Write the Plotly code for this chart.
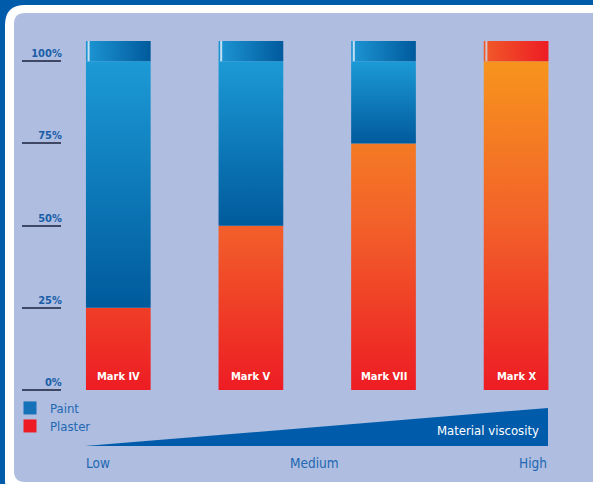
import plotly.graph_objects as go

# ---- data ----
categories = ["Mark IV", "Mark V", "Mark VII", "Mark X"]
plaster = [25, 50, 75, 100]
paint = [75, 50, 25, 0]
tick_vals = [0, 25, 50, 75, 100]
tick_labels = ["0%", "25%", "50%", "75%", "100%"]
scale_labels = ["Low", "Medium", "High"]
scale_title = "Material viscosity"
series_names = ["Paint", "Plaster"]

# ---- styling ----
FONT = "DejaVu Sans Condensed, Roboto, sans-serif"
OUTER = "#005BAA"
PANEL = "#AEBDE0"
TEXT_BLUE = "#2268B2"
PAINT_SCALE = [[0, "#005A9C"], [1, "#1C9AD6"]]
PLASTER_SCALE = [[0, "#ED1C24"], [0.5, "#F2602A"], [1, "#F7941D"]]
CAP_BLUE = [[0, "#1E96D4"], [1, "#005A9C"]]
CAP_RED = [[0, "#F15A29"], [1, "#ED1C24"]]
BAR_W = 0.488
LID = 6.2

W, H = 593, 484
L = 62


def xp(px):
    return (px - L) / (W - L)


def yp(py):
    return (H - py) / H


def rrect(x0, y0, x1, y1, r):
    pts = [
        ("M", [(x0 + r, y0)]),
        ("L", [(x1 - r, y0)]),
        ("Q", [(x1, y0), (x1, y0 + r)]),
        ("L", [(x1, y1 - r)]),
        ("Q", [(x1, y1), (x1 - r, y1)]),
        ("L", [(x0 + r, y1)]),
        ("Q", [(x0, y1), (x0, y1 - r)]),
        ("L", [(x0, y0 + r)]),
        ("Q", [(x0, y0), (x0 + r, y0)]),
    ]
    s = ""
    for cmd, ps in pts:
        s += cmd + " " + " ".join(f"{xp(a):.5f},{yp(b):.5f}" for a, b in ps) + " "
    return s + "Z"


fig = go.Figure()
hw = BAR_W / 2
for i, name in enumerate(categories):
    xs = [i - hw, i + hw, i + hw, i - hw, i - hw]
    fig.add_trace(go.Scatter(
        x=xs, y=[0, 0, plaster[i], plaster[i], 0], mode="lines", fill="toself",
        line=dict(width=0), fillgradient=dict(type="vertical", colorscale=PLASTER_SCALE, start=0, stop=100),
        hoverinfo="skip", showlegend=False))
    if paint[i] > 0:
        top = plaster[i] + paint[i]
        fig.add_trace(go.Scatter(
            x=xs, y=[plaster[i], plaster[i], top, top, plaster[i]], mode="lines", fill="toself",
            line=dict(width=0),
            fillgradient=dict(type="vertical", colorscale=PAINT_SCALE, start=plaster[i], stop=top),
            hoverinfo="skip", showlegend=False))
    top = plaster[i] + paint[i]
    fig.add_trace(go.Scatter(
        x=xs, y=[top, top, top + LID, top + LID, top], mode="lines", fill="toself",
        line=dict(width=0),
        fillgradient=dict(type="horizontal", colorscale=CAP_BLUE if paint[i] > 0 else CAP_RED,
                          start=i - hw, stop=i + hw),
        hoverinfo="skip", showlegend=False))
    fig.add_trace(go.Scatter(
        x=[i - hw + 0.02, i - hw + 0.02], y=[top, top + LID], mode="lines",
        line=dict(width=2, color="rgba(225,236,248,0.85)" if paint[i] > 0 else "rgba(205,210,225,0.9)"),
        hoverinfo="skip", showlegend=False))
    fig.add_annotation(x=i, y=0, yanchor="bottom", yshift=5, text=name, showarrow=False,
                       font=dict(family=FONT, size=11, color="white", weight="bold"))

# legend entries (placeholder points lie outside the axis range)
fig.add_trace(go.Scatter(x=[-10], y=[-1000], mode="markers", name=series_names[0],
                         marker=dict(symbol="square", size=13, color="#1571B8"), legend="legend",
                         hoverinfo="skip"))
fig.add_trace(go.Scatter(x=[-10], y=[-1000], mode="markers", name=series_names[1],
                         marker=dict(symbol="square", size=13, color="#ED1C24"), legend="legend2",
                         hoverinfo="skip"))

legend_common = dict(xref="container", yref="container", xanchor="left", yanchor="middle",
                     bgcolor="rgba(0,0,0,0)", font=dict(family=FONT, size=13, color=TEXT_BLUE))

shapes = [
    dict(type="path", xref="paper", yref="paper", path=rrect(5, 5, 660, 500, 20),
         fillcolor="white", line=dict(width=0), layer="below"),
    dict(type="path", xref="paper", yref="paper", path=rrect(14, 13, 650, 482, 11),
         fillcolor=PANEL, line=dict(width=0), layer="below"),
    dict(type="path", xref="paper", yref="paper",
         path=f"M {xp(85):.5f},{yp(446):.5f} L {xp(548):.5f},{yp(408):.5f} L {xp(548):.5f},{yp(446):.5f} Z",
         fillcolor=OUTER, line=dict(width=0), layer="below"),
]

annotations = [
    dict(xref="paper", yref="paper", x=xp(541), y=yp(430), xanchor="right", yanchor="middle",
         text=scale_title, showarrow=False, font=dict(family=FONT, size=13, color="white")),
    dict(xref="paper", yref="paper", x=xp(84), y=yp(463), xanchor="left", yanchor="middle",
         text=scale_labels[0], showarrow=False, font=dict(family=FONT, size=13.5, color=TEXT_BLUE)),
    dict(xref="paper", yref="paper", x=xp(314), y=yp(463), xanchor="center", yanchor="middle",
         text=scale_labels[1], showarrow=False, font=dict(family=FONT, size=13.5, color=TEXT_BLUE)),
    dict(xref="paper", yref="paper", x=xp(549), y=yp(463), xanchor="right", yanchor="middle",
         text=scale_labels[2], showarrow=False, font=dict(family=FONT, size=13.5, color=TEXT_BLUE)),
]

fig.update_layout(
    width=W, height=H,
    margin=dict(l=L, r=0, t=0, b=0, autoexpand=False),
    paper_bgcolor=OUTER,
    plot_bgcolor="rgba(0,0,0,0)",
    shapes=shapes,
    showlegend=True,
    legend=dict(x=10 / W, y=1 - 408 / H, **legend_common),
    legend2=dict(x=10 / W, y=1 - 426 / H, **legend_common),
    xaxis=dict(visible=False, range=[-0.4246, 3.5799], fixedrange=True),
    yaxis=dict(range=[-28.6, 118.65], tickvals=tick_vals, ticktext=tick_labels,
               ticks="outside", ticklen=39, tickwidth=1.8, tickcolor="#3E4864",
               showgrid=False, zeroline=False, showline=False,
               tickfont=dict(family=FONT, size=11, color="#1A5EA8", weight="bold"),
               ticklabelshift=-8, ticklabelstandoff=-42, fixedrange=True),
)
for a in annotations:
    fig.add_annotation(**a)

fig.write_html("out.html", config={"displayModeBar": False},
               post_script="document.body.style.margin='0';")
